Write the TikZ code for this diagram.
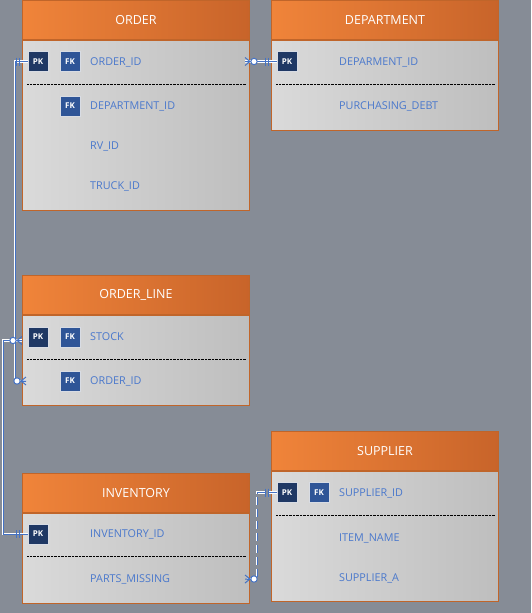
\documentclass[tikz,border=0pt]{standalone}
\usepackage{fontspec}
\setmainfont{Open Sans}
\usetikzlibrary{positioning}
\definecolor{bggray}{HTML}{868C96}
\definecolor{headleft}{HTML}{F0843A}
\definecolor{headright}{HTML}{C8642A}
\definecolor{tableedge}{HTML}{C0652A}
\definecolor{bodyleft}{HTML}{DADADA}
\definecolor{bodyright}{HTML}{BEBEBE}
\definecolor{pkblue}{HTML}{1F3864}
\definecolor{fkblue}{HTML}{2F5597}
\definecolor{keyedge}{HTML}{D8DCE4}
\definecolor{fieldblue}{HTML}{4A78CC}
\definecolor{linkblue}{HTML}{4472C4}
\tikzset{
  tablehead/.style={draw=tableedge, line width=1pt, left color=headleft, right color=headright,
    text=white, minimum width=227pt, minimum height=39pt, anchor=north west, inner sep=0pt,
    font=\fontsize{12.5}{14}\selectfont},
  tablebody/.style={draw=tableedge, line width=1pt, left color=bodyleft, right color=bodyright,
    minimum width=227pt, anchor=north west, inner sep=0pt},
  keybox/.style={draw=keyedge, line width=0.5pt, minimum size=20pt, inner sep=0pt, text=white,
    font=\fontsize{8}{9}\bfseries\selectfont},
  pkbox/.style={keybox, fill=pkblue},
  fkbox/.style={keybox, fill=fkblue},
  field/.style={anchor=west, inner sep=0pt, text=fieldblue, font=\fontsize{10.8}{12}\selectfont},
  rowsep/.style={line width=0.8pt, dash pattern=on 0.8pt off 0.6pt},
  erlink/.style={draw=white, double=linkblue, line width=0.8pt, double distance=1pt},
  erend/.style={draw=linkblue, line width=1pt},
  zeromany/.pic={
    \draw[erend] (-5,0) -- (0,-4) (-5,0) -- (0,4) (-5,0) -- (0,0);
    \draw[erend, fill=white] (-9,0) circle (3.2pt);
  },
  onlyone/.pic={
    \draw[erend] (-8,-4) -- (-8,4) (-11,-4) -- (-11,4);
  },
}
\begin{document}
\begin{tikzpicture}[x=1pt, y=-1pt]
    \fill[bggray] (0,0) rectangle (531,613);
    \useasboundingbox (0,0) rectangle (531,613);
    %tables
    \node[tablehead] at (22,0) (orderhead) {ORDER};
    \node[tablebody, minimum height=170pt] at (orderhead.south west) (order) {};
    \node[tablehead] at (271,0) (depthead) {DEPARTMENT};
    \node[tablebody, minimum height=90pt] at (depthead.south west) (dept) {};
    \node[tablehead] at (22,275) (olinehead) {ORDER\_LINE};
    \node[tablebody, minimum height=90pt] at (olinehead.south west) (oline) {};
    \node[tablehead] at (22,473) (invhead) {INVENTORY};
    \node[tablebody, minimum height=90pt] at (invhead.south west) (inv) {};
    \node[tablehead] at (271,431) (supphead) {SUPPLIER};
    \node[tablebody, minimum height=130pt] at (supphead.south west) (supp) {};
    %keys
    \node[pkbox] at (38,61.5) (orderpk) {PK};
    \node[fkbox] at (70,61.5) (orderfk) {FK};
    \node[fkbox] at (70,106) (orderfk2) {FK};
    \node[pkbox] at (287,61.5) (deptpk) {PK};
    \node[pkbox] at (38,337) (olinepk) {PK};
    \node[fkbox] at (70,337) (olinefk) {FK};
    \node[fkbox] at (70,381) (olinefk2) {FK};
    \node[pkbox] at (38,534) (invpk) {PK};
    \node[pkbox] at (287,492.5) (supppk) {PK};
    \node[fkbox] at (319,492.5) (suppfk) {FK};
    %fields
    \node[field] at (90,62) (orderid) {ORDER\_ID};
    \node[field] at (90,106.5) (orderdept) {DEPARTMENT\_ID};
    \node[field] at (90,146.5) (orderrv) {RV\_ID};
    \node[field] at (90,186.5) (ordertruck) {TRUCK\_ID};
    \node[field] at (339,62) (deptid) {DEPARMENT\_ID};
    \node[field] at (339,106.5) (deptdebt) {PURCHASING\_DEBT};
    \node[field] at (90,337) (olinestock) {STOCK};
    \node[field] at (90,381.5) (olineoid) {ORDER\_ID};
    \node[field] at (90,534.5) (invid) {INVENTORY\_ID};
    \node[field] at (90,579.5) (invparts) {PARTS\_MISSING};
    \node[field] at (339,493) (suppid) {SUPPLIER\_ID};
    \node[field] at (339,538) (suppitem) {ITEM\_NAME};
    \node[field] at (339,578) (suppa) {SUPPLIER\_A};
    %separators
    \draw[rowsep] ([xshift=5pt]order.west |- 0,84) -- ([xshift=-4pt]order.east |- 0,84);
    \draw[rowsep] ([xshift=5pt]dept.west |- 0,84) -- ([xshift=-4pt]dept.east |- 0,84);
    \draw[rowsep] ([xshift=5pt]oline.west |- 0,359) -- ([xshift=-4pt]oline.east |- 0,359);
    \draw[rowsep] ([xshift=5pt]inv.west |- 0,556) -- ([xshift=-4pt]inv.east |- 0,556);
    \draw[rowsep] ([xshift=5pt]supp.west |- 0,515.5) -- ([xshift=-4pt]supp.east |- 0,515.5);
    %links
    \coordinate (orderend) at (245,61.5);
    \coordinate (oidend) at (26,381);
    \coordinate (stockend) at (22,340.5);
    \coordinate (partsend) at (245,579);
    \draw[erlink] (orderend) -- (deptpk.west);
    \draw[erlink] (orderpk.west) -| (15,381) -- (oidend);
    \draw[erlink] (invpk.west) -| (3,340.5) -- (stockend);
    \draw[erlink, dash pattern=on 8pt off 4pt] (supppk.west) -| (257,579) -- (partsend);
    \pic[rotate=180] at (orderend) {zeromany};
    \pic at (deptpk.west) {onlyone};
    \pic at (orderpk.west) {onlyone};
    \pic at (oidend) {zeromany};
    \pic at (invpk.west) {onlyone};
    \pic at (stockend) {zeromany};
    \pic at (supppk.west) {onlyone};
    \pic[rotate=180] at (partsend) {zeromany};
\end{tikzpicture}
\end{document}
